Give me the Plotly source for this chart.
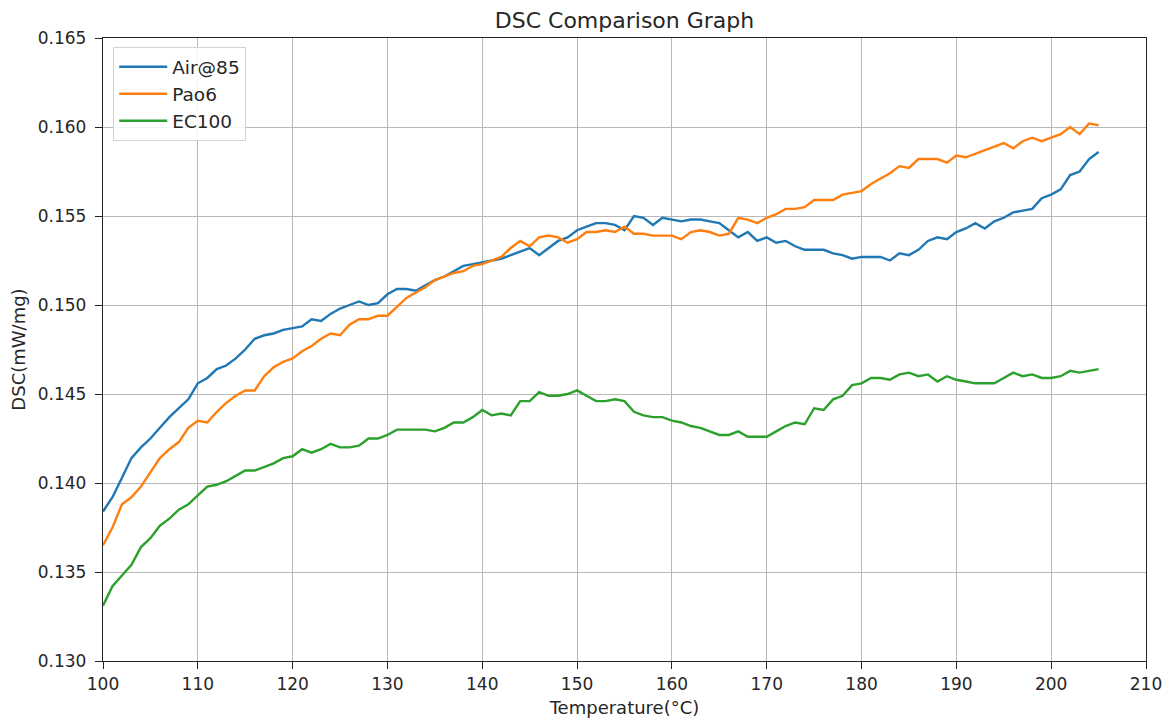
import plotly.graph_objects as go

temperature = list(range(100, 206))

air85 = [0.1384, 0.1392, 0.1403, 0.1414, 0.1420, 0.1425, 0.1431, 0.1437, 0.1442, 0.1447, 0.1456,
         0.1459, 0.1464, 0.1466, 0.1470, 0.1475, 0.1481, 0.1483, 0.1484, 0.1486, 0.1487,
         0.1488, 0.1492, 0.1491, 0.1495, 0.1498, 0.1500, 0.1502, 0.1500, 0.1501, 0.1506,
         0.1509, 0.1509, 0.1508, 0.1511, 0.1514, 0.1516, 0.1519, 0.1522, 0.1523, 0.1524,
         0.1525, 0.1526, 0.1528, 0.1530, 0.1532, 0.1528, 0.1532, 0.1536, 0.1538, 0.1542,
         0.1544, 0.1546, 0.1546, 0.1545, 0.1542, 0.1550, 0.1549, 0.1545, 0.1549, 0.1548,
         0.1547, 0.1548, 0.1548, 0.1547, 0.1546, 0.1542, 0.1538, 0.1541, 0.1536, 0.1538,
         0.1535, 0.1536, 0.1533, 0.1531, 0.1531, 0.1531, 0.1529, 0.1528, 0.1526, 0.1527,
         0.1527, 0.1527, 0.1525, 0.1529, 0.1528, 0.1531, 0.1536, 0.1538, 0.1537, 0.1541,
         0.1543, 0.1546, 0.1543, 0.1547, 0.1549, 0.1552, 0.1553, 0.1554, 0.1560, 0.1562,
         0.1565, 0.1573, 0.1575, 0.1582, 0.1586]

pao6 = [0.1365, 0.1375, 0.1388, 0.1392, 0.1398, 0.1406, 0.1414, 0.1419, 0.1423, 0.1431, 0.1435,
        0.1434, 0.1440, 0.1445, 0.1449, 0.1452, 0.1452, 0.1460, 0.1465, 0.1468, 0.1470,
        0.1474, 0.1477, 0.1481, 0.1484, 0.1483, 0.1489, 0.1492, 0.1492, 0.1494, 0.1494,
        0.1499, 0.1504, 0.1507, 0.1510, 0.1514, 0.1516, 0.1518, 0.1519, 0.1522, 0.1523,
        0.1525, 0.1527, 0.1532, 0.1536, 0.1533, 0.1538, 0.1539, 0.1538, 0.1535, 0.1537,
        0.1541, 0.1541, 0.1542, 0.1541, 0.1544, 0.1540, 0.1540, 0.1539, 0.1539, 0.1539,
        0.1537, 0.1541, 0.1542, 0.1541, 0.1539, 0.1540, 0.1549, 0.1548, 0.1546, 0.1549,
        0.1551, 0.1554, 0.1554, 0.1555, 0.1559, 0.1559, 0.1559, 0.1562, 0.1563, 0.1564,
        0.1568, 0.1571, 0.1574, 0.1578, 0.1577, 0.1582, 0.1582, 0.1582, 0.1580, 0.1584,
        0.1583, 0.1585, 0.1587, 0.1589, 0.1591, 0.1588, 0.1592, 0.1594, 0.1592, 0.1594,
        0.1596, 0.1600, 0.1596, 0.1602, 0.1601]

ec100 = [0.1331, 0.1342, 0.1348, 0.1354, 0.1364, 0.1369, 0.1376, 0.1380, 0.1385, 0.1388, 0.1393,
         0.1398, 0.1399, 0.1401, 0.1404, 0.1407, 0.1407, 0.1409, 0.1411, 0.1414, 0.1415,
         0.1419, 0.1417, 0.1419, 0.1422, 0.1420, 0.1420, 0.1421, 0.1425, 0.1425, 0.1427,
         0.1430, 0.1430, 0.1430, 0.1430, 0.1429, 0.1431, 0.1434, 0.1434, 0.1437, 0.1441,
         0.1438, 0.1439, 0.1438, 0.1446, 0.1446, 0.1451, 0.1449, 0.1449, 0.1450, 0.1452,
         0.1449, 0.1446, 0.1446, 0.1447, 0.1446, 0.1440, 0.1438, 0.1437, 0.1437, 0.1435,
         0.1434, 0.1432, 0.1431, 0.1429, 0.1427, 0.1427, 0.1429, 0.1426, 0.1426, 0.1426,
         0.1429, 0.1432, 0.1434, 0.1433, 0.1442, 0.1441, 0.1447, 0.1449, 0.1455, 0.1456,
         0.1459, 0.1459, 0.1458, 0.1461, 0.1462, 0.1460, 0.1461, 0.1457, 0.1460, 0.1458,
         0.1457, 0.1456, 0.1456, 0.1456, 0.1459, 0.1462, 0.1460, 0.1461, 0.1459, 0.1459,
         0.1460, 0.1463, 0.1462, 0.1463, 0.1464]

series_names = ["Air@85", "Pao6", "EC100"]
series_colors = ["#1f77b4", "#ff7f0e", "#2ca02c"]
x_ticks = list(range(100, 211, 10))
y_ticks = [0.130, 0.135, 0.140, 0.145, 0.150, 0.155, 0.160, 0.165]

fig = go.Figure()
for name, vals, col in zip(series_names, [air85, pao6, ec100], series_colors):
    fig.add_trace(go.Scatter(x=temperature, y=vals, mode="lines", name=name,
                             line=dict(color=col, width=2.4)))

axis_common = dict(showline=True, linecolor="#262626", linewidth=1.4, mirror=True,
                   showgrid=True, gridcolor="#b8b8b8", gridwidth=1.3,
                   ticks="outside", ticklen=7, tickwidth=1.3, tickcolor="#262626",
                   zeroline=False, automargin=False,
                   tickfont=dict(size=17, color="#262626"))

fig.update_layout(
    width=1172, height=725,
    paper_bgcolor="white", plot_bgcolor="white",
    font=dict(family="DejaVu Sans", color="#262626"),
    margin=dict(l=95, r=34, t=30, b=72, pad=0),
    title=dict(text="DSC Comparison Graph", x=0.5, xref="paper", xanchor="center",
               y=1 - 12 / 725, yref="container", yanchor="middle",
               font=dict(size=22, color="#262626")),
    xaxis=dict(range=[100, 210], tickvals=x_ticks, ticktext=[str(v) for v in x_ticks],
               title=dict(text="Temperature(°C)", font=dict(size=18), standoff=8), **axis_common),
    yaxis=dict(range=[0.130, 0.165], tickvals=y_ticks, ticktext=[f"{v:.3f}" for v in y_ticks],
               ticklabelstandoff=5,
               title=dict(text="DSC(mW/mg)", font=dict(size=18), standoff=7), **axis_common),
    legend=dict(x=0.0096, y=0.9856, xanchor="left", yanchor="top",
                bgcolor="rgba(255,255,255,0.85)", bordercolor="#d4d4d4", borderwidth=1.2,
                font=dict(size=18.5, color="#262626"), tracegroupgap=0, itemwidth=48),
    showlegend=True,
)

fig.write_html("out.html")
